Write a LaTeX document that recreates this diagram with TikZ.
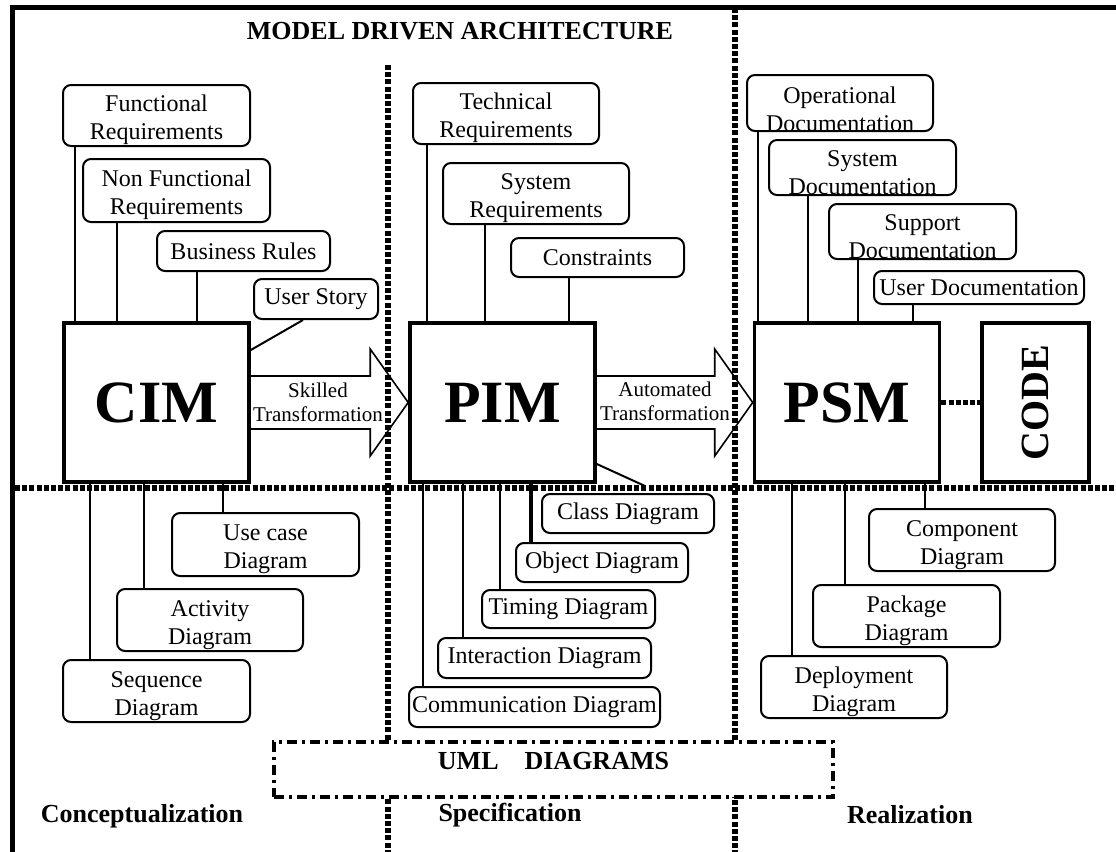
\documentclass[tikz,border=0pt]{standalone}
\usepackage{fontspec}
\setmainfont{Liberation Serif}
\usetikzlibrary{positioning}

\tikzset{
  model/.style={draw, line width=1.8pt, inner sep=0pt, minimum width=92.5pt, minimum height=79.5pt, font=\bfseries\fontsize{30}{32}\selectfont},
  desc/.style={draw, rounded corners=4pt, line width=1pt, inner sep=0pt, align=center, font=\fontsize{12}{14}\selectfont},
  twoline/.style={text height=24.4pt, text depth=0pt},
  link/.style={line width=1pt},
  dots/.style={line width=2.6pt, dash pattern=on 2.5pt off 1.1pt},
  bigarrow/.style={line width=0.8pt, line join=miter},
  heading/.style={font=\bfseries\fontsize{13}{15}\selectfont},
  arrowtext/.style={align=center, font=\fontsize{10.5}{12}\selectfont},
}

\begin{document}
\begin{tikzpicture}[x=0.5pt, y=-0.5pt]
  \useasboundingbox (0,0) rectangle (1116,852);
  % frame
  \draw[line width=2.5pt] (1116,7.5) -| (12.5,852);
  \node[heading] (mda) at (460,31) {MODEL DRIVEN ARCHITECTURE};

  % models
  \node[model] (cim) at (156.5,402.5) {CIM};
  \node[model] (pim) at (502.5,402.5) {PIM};
  \node[model] (psm) at (847,402.5) {PSM};
  \node[model, minimum width=53.5pt, font=\bfseries\fontsize{20}{22}\selectfont] (code) at (1035.5,402.5) {\rotatebox{90}{CODE}};

  % transformations
  \draw[bigarrow] ([yshift=13.25pt]cim.east) -- ([xshift=-19pt,yshift=13.25pt]pim.west)
    -- ([xshift=-19pt,yshift=26.75pt]pim.west) -- (pim.west)
    -- ([xshift=-19pt,yshift=-26.75pt]pim.west) -- ([xshift=-19pt,yshift=-13.25pt]pim.west)
    -- ([yshift=-13.25pt]cim.east);
  \draw[bigarrow] ([yshift=13.25pt]pim.east) -- ([xshift=-19pt,yshift=13.25pt]psm.west)
    -- ([xshift=-19pt,yshift=26.75pt]psm.west) -- (psm.west)
    -- ([xshift=-19pt,yshift=-26.75pt]psm.west) -- ([xshift=-19pt,yshift=-13.25pt]psm.west)
    -- ([yshift=-13.25pt]pim.east);
  \node[arrowtext] (skilled) at (318,402) {Skilled\\Transformation};
  \node[arrowtext] (automated) at (665,401) {Automated\\Transformation};
  \draw[dots] (psm.east) -- (code.west);

  % CIM inputs
  \node[desc, twoline, minimum width=93.5pt, minimum height=30.5pt] (fr) at (156.5,115.5) {Functional\\Requirements};
  \node[desc, twoline, minimum width=93.5pt, minimum height=31.5pt] (nfr) at (176.5,190.5) {Non Functional\\Requirements};
  \node[desc, minimum width=86.5pt, minimum height=20pt] (brules) at (243.5,251) {Business Rules};
  \node[desc, minimum width=62pt, minimum height=20pt] (ustory) at (316,299) {User Story};
  \draw[link] (75,0 |- fr.south) -- (75,0 |- cim.north);
  \draw[link] (117,0 |- nfr.south) -- (117,0 |- cim.north);
  \draw[link] (197,0 |- brules.south) -- (197,0 |- cim.north);
  \draw[link] (303,0 |- ustory.south) -- (cim.east |- 0,350);

  % CIM diagrams
  \node[desc, twoline, minimum width=93.5pt, minimum height=31.5pt] (usecase) at (265.5,544.5) {Use case\\Diagram};
  \node[desc, twoline, minimum width=93pt, minimum height=31pt] (activity) at (210,620) {Activity\\Diagram};
  \node[desc, twoline, minimum width=93.5pt, minimum height=31pt] (sequence) at (156.5,691) {Sequence\\Diagram};
  \draw[link] (223,0 |- cim.south) -- (223,0 |- usecase.north);
  \draw[link] (144,0 |- cim.south) -- (144,0 |- activity.north);
  \draw[link] (90,0 |- cim.south) -- (90,0 |- sequence.north);

  % PIM inputs
  \node[desc, twoline, minimum width=93pt, minimum height=30.5pt] (techreq) at (506,113.5) {Technical\\Requirements};
  \node[desc, twoline, minimum width=93pt, minimum height=30.5pt] (sysreq) at (536,193.5) {System\\Requirements};
  \node[desc, minimum width=86.5pt, minimum height=19.5pt] (constr) at (597.5,257.5) {Constraints};
  \draw[link] (427,0 |- techreq.south) -- (427,0 |- pim.north);
  \draw[link] (485,0 |- sysreq.south) -- (485,0 |- pim.north);
  \draw[link] (569,0 |- constr.south) -- (569,0 |- pim.north);

  % PIM diagrams
  \node[desc, minimum width=86pt, minimum height=19.5pt] (classd) at (628,513.5) {Class Diagram};
  \node[desc, minimum width=86pt, minimum height=19.5pt] (objectd) at (602,562.5) {Object Diagram};
  \node[desc, minimum width=86.5pt, minimum height=19pt] (timingd) at (568.5,609) {Timing Diagram};
  \node[desc, minimum width=106.5pt, minimum height=20pt] (interd) at (544.5,658) {Interaction Diagram};
  \node[desc, minimum width=125.5pt, minimum height=20pt] (commd) at (534.5,707) {Communication Diagram};
  \draw[link] (pim.east |- 0,464) -- ([yshift=3.5pt]645,0 |- classd.north);
  \draw[link, line width=1.8pt] (531,0 |- pim.south) -- (531,0 |- objectd.north);
  \draw[link] (500,0 |- pim.south) -- (500,0 |- timingd.north);
  \draw[link] (463,0 |- pim.south) -- (463,0 |- interd.north);
  \draw[link] (423,0 |- pim.south) -- (423,0 |- commd.north);

  % PSM inputs
  \node[desc, minimum width=93pt, minimum height=28pt, label={[desc, draw=none, yshift=-3pt]center:Operational\\Documentation}] (opdoc) at (840,103) {};
  \node[desc, minimum width=93.5pt, minimum height=27.5pt, label={[desc, draw=none, yshift=-2.5pt]center:System\\Documentation}] (sysdoc) at (862.5,167.5) {};
  \node[desc, minimum width=93.5pt, minimum height=27.5pt, label={[desc, draw=none, yshift=-2.5pt]center:Support\\Documentation}] (supdoc) at (922.5,231.5) {};
  \node[desc, minimum width=105pt, minimum height=16.5pt] (userdoc) at (979,287.5) {User Documentation};
  \draw[link] (758,0 |- opdoc.south) -- (758,0 |- psm.north);
  \draw[link] (808,0 |- sysdoc.south) -- (808,0 |- psm.north);
  \draw[link] (858,0 |- supdoc.south) -- (858,0 |- psm.north);
  \draw[link] (913,0 |- userdoc.south) -- (913,0 |- psm.north);

  % PSM diagrams
  \node[desc, twoline, minimum width=93pt, minimum height=31pt] (compd) at (962,540) {Component\\Diagram};
  \node[desc, twoline, minimum width=93.5pt, minimum height=31pt] (packd) at (906.5,616) {Package\\Diagram};
  \node[desc, twoline, minimum width=93pt, minimum height=31pt] (deplyd) at (854,687) {Deployment\\Diagram};
  \draw[link] (925,0 |- psm.south) -- (925,0 |- compd.north);
  \draw[link] (845,0 |- psm.south) -- (845,0 |- packd.north);
  \draw[link] (792,0 |- psm.south) -- (792,0 |- deplyd.north);

  % phases
  \draw[dots] (388,65) -- (388,852);
  \draw[dots] (735,8) -- (735,852);
  \draw[dots] (15,488) -- (1116,488);
  \node[draw, fill=white, line width=2pt, dash pattern=on 5pt off 2.5pt on 1.5pt off 2.5pt,
        minimum width=279.5pt, minimum height=27.5pt,
        label={[heading, yshift=4.25pt]center:UML\quad DIAGRAMS}] (uml) at (553.5,769.5) {};
  \node[heading] (concept) at (142,816) {Conceptualization};
  \node[heading] (spec) at (510,815) {Specification};
  \node[heading] (real) at (910,815) {Realization};
\end{tikzpicture}
\end{document}
